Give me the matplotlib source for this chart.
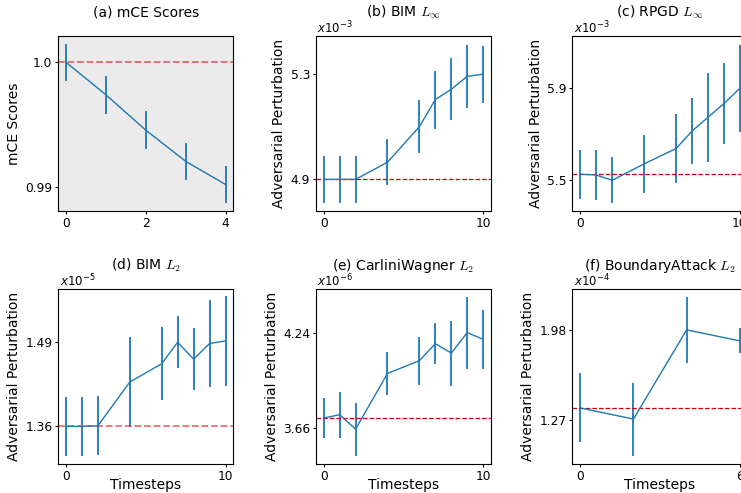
import matplotlib
matplotlib.use("Agg")
import matplotlib.pyplot as plt

# (a) mCE scores
steps_a = [0, 1, 2, 3, 4]
mce = [1.0, 0.9974, 0.99457, 0.99208, 0.99022]
mce_err = [0.0015, 0.0015, 0.0015, 0.00147, 0.0015]

# perturbation panels (values in units of the offset shown on top of each axis)
steps = [0, 1, 2, 4, 6, 7, 8, 9, 10]
bim_linf = [4.900, 4.900, 4.900, 4.965, 5.100, 5.203, 5.242, 5.291, 5.299]
bim_linf_err = [0.088, 0.088, 0.089, 0.087, 0.100, 0.110, 0.118, 0.120, 0.108]
rpgd_linf = [5.526, 5.523, 5.500, 5.571, 5.637, 5.712, 5.772, 5.831, 5.897]
rpgd_linf_err = [0.107, 0.109, 0.099, 0.124, 0.149, 0.143, 0.191, 0.175, 0.187]
bim_l2 = [1.360, 1.360, 1.361, 1.428, 1.456, 1.489, 1.463, 1.487, 1.491]
bim_l2_err = [0.0455, 0.0455, 0.0455, 0.069, 0.056, 0.040, 0.047, 0.067, 0.069]
cw_l2 = [3.723, 3.743, 3.656, 3.993, 4.070, 4.173, 4.116, 4.240, 4.199]
cw_l2_err = [0.121, 0.139, 0.160, 0.132, 0.145, 0.125, 0.197, 0.218, 0.180]
steps_f = [0, 2, 4, 6]
boundary_l2 = [1.363, 1.275, 1.980, 1.893]
boundary_l2_err = [0.273, 0.289, 0.262, 0.098]

baselines = [1.0, 4.9, 5.526, 1.36, 3.723, 1.363]
titles = ["(a) mCE Scores", r"(b) BIM $L_\infty$", r"(c) RPGD $L_\infty$",
          r"(d) BIM $L_2$", r"(e) CarliniWagner $L_2$", r"(f) BoundaryAttack $L_2$"]
offsets = [None, r"$x10^{-3}$", r"$x10^{-3}$", r"$x10^{-5}$", r"$x10^{-6}$", r"$x10^{-4}$"]
yticks = [[0.99, 1.0], [4.9, 5.3], [5.5, 5.9], [1.36, 1.49], [3.66, 4.24], [1.27, 1.98]]
yticklabels = [["0.99", "1.0"], ["4.9", "5.3"], ["5.5", "5.9"], ["1.36", "1.49"],
               ["3.66", "4.24"], ["1.27", "1.98"]]
xticks = [[0, 2, 4], [0, 10], [0, 10], [0, 10], [0, 10], [0, 6]]

xs = [steps_a, steps, steps, steps, steps, steps_f]
ys = [mce, bim_linf, rpgd_linf, bim_l2, cw_l2, boundary_l2]
errs = [mce_err, bim_linf_err, rpgd_linf_err, bim_l2_err, cw_l2_err, boundary_l2_err]
ylims = [(0.9881, 1.0021), (4.78, 5.444), (5.3675, 6.123),
         (1.302, 1.570), (3.443, 4.502), (0.9176, 2.3006)]

W, H = 741, 493
fig = plt.figure(figsize=(W / 100, H / 100), dpi=100)

lefts = [58, 315.7, 572.3]
tops = [36, 289.3]
aw, ah = 175.5, 175

for i in range(6):
    r, c = divmod(i, 3)
    ax = fig.add_axes([lefts[c] / W, (H - tops[r] - ah) / H, aw / W, ah / H])
    if i == 0:
        ax.set_facecolor('#ebebeb')
    ax.errorbar(xs[i], ys[i], yerr=errs[i], color='tab:blue', lw=1, elinewidth=1.3)
    if i in (0, 3):
        ax.axhline(baselines[i], color='#e03c3c', ls='--', lw=1.3, alpha=0.75)
    else:
        ax.axhline(baselines[i], color='#d00000', ls='--', lw=0.9)
    ax.set_ylim(ylims[i])
    ax.set_xticks(xticks[i])
    ax.set_yticks(yticks[i])
    ax.set_yticklabels(yticklabels[i])
    ax.tick_params(labelsize=8.8, length=2.5, pad=1.5)
    ax.set_title(titles[i], fontsize=10, pad=14)
    ax.title.set_math_fontfamily('cm')
    ax.set_ylabel("mCE Scores" if i == 0 else "Adversarial Perturbation", fontsize=10,
                  labelpad=3)
    if r == 1:
        ax.set_xlabel("Timesteps", fontsize=10, labelpad=-3.5)
    if offsets[i]:
        ax.text(0.01, 1.0, offsets[i], transform=ax.transAxes, ha='left', va='bottom',
                fontsize=8.5)

fig.savefig("out.png", dpi=100)
